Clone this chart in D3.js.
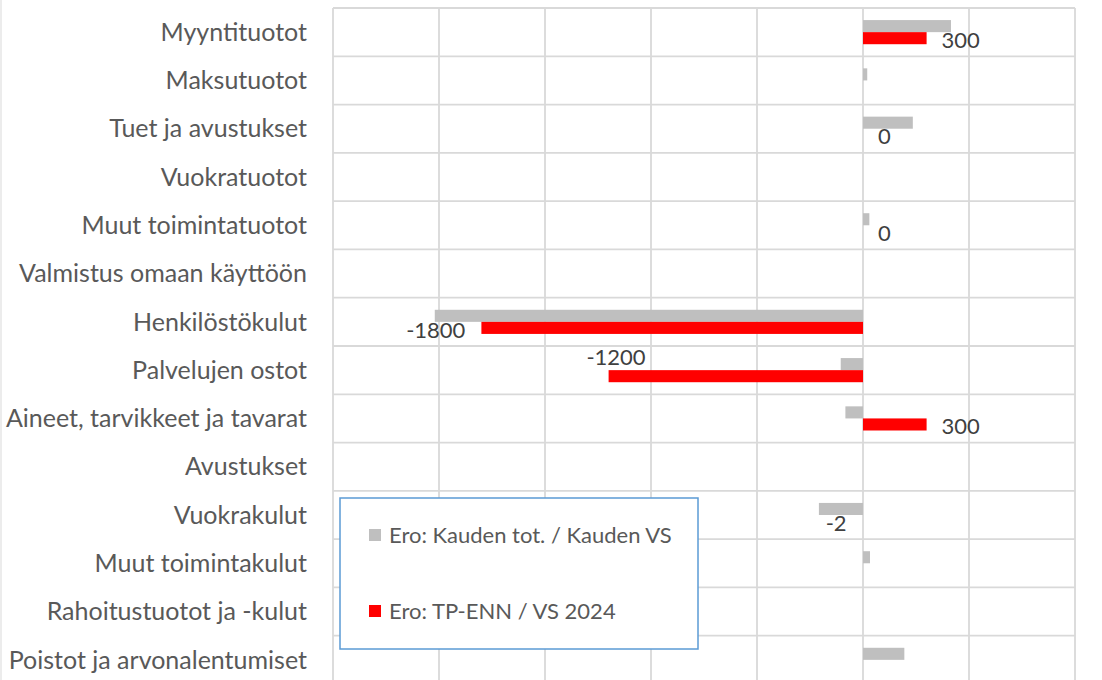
<!DOCTYPE html>
<html>
<head>
<meta charset="utf-8">
<script src="https://cdn.jsdelivr.net/npm/d3@7"></script>
<style>
  body { margin: 0; background: #fff; }
  text { font-family: Lato, "Open Sans", sans-serif; }
</style>
</head>
<body>
<div id="wrapper"></div>
<script>
// Data
const categories = [
  "Myyntituotot",
  "Maksutuotot",
  "Tuet ja avustukset",
  "Vuokratuotot",
  "Muut toimintatuotot",
  "Valmistus omaan käyttöön",
  "Henkilöstökulut",
  "Palvelujen ostot",
  "Aineet, tarvikkeet ja tavarat",
  "Avustukset",
  "Vuokrakulut",
  "Muut toimintakulut",
  "Rahoitustuotot ja -kulut",
  "Poistot ja arvonalentumiset",
]
const seriesNames = ["Ero: Kauden tot. / Kauden VS", "Ero: TP-ENN / VS 2024"]
const eroKausi = [415, 20, 235, null, 30, null, -2020, -105, -83, null, -208, 33, null, 195]
const eroTpEnn = [300, null, 0, null, 0, null, -1800, -1200, 300, null, -2, null, null, null]
const xTicks = [-2500, -2000, -1500, -1000, -500, 0, 500, 1000]

const colors = ["#bfbfbf", "#ff0000"]

async function drawBars() {

  // 1. Dimensions
  const dimensions = {
    width: 1102,
    height: 680,
    plotLeft: 333,
    plotRight: 1075,
    plotTop: 8,
    plotBottom: 684,
  }

  // 2. Canvas
  const wrapper = d3.select("#wrapper")
    .append("svg")
      .attr("width", dimensions.width)
      .attr("height", dimensions.height)
      .style("display", "block")

  // 3. Scales
  const xScale = d3.scaleLinear()
    .domain([-2500, 1000])
    .range([dimensions.plotLeft, dimensions.plotRight])

  const yScale = d3.scaleBand()
    .domain(categories)
    .range([dimensions.plotTop, dimensions.plotBottom])

  const barH = yScale.bandwidth() / 4
  const barOffset = [yScale.bandwidth() / 4, yScale.bandwidth() / 2]

  // faint outer chart border on the left
  wrapper.append("line")
      .attr("x1", 1).attr("x2", 1)
      .attr("y1", 0).attr("y2", dimensions.height)
      .attr("stroke", "#e6e6e6")
      .attr("stroke-width", 1.5)

  // 4. Gridlines
  const grid = wrapper.append("g")
  grid.selectAll(".vgrid")
    .data(xTicks)
    .enter().append("line")
      .attr("x1", d => xScale(d)).attr("x2", d => xScale(d))
      .attr("y1", dimensions.plotTop).attr("y2", dimensions.plotBottom)
      .attr("stroke", "#d9d9d9")
      .attr("stroke-width", 1.8)

  const rowEdges = categories.map(c => yScale(c)).concat([dimensions.plotBottom])
  grid.selectAll(".hgrid")
    .data(rowEdges)
    .enter().append("line")
      .attr("x1", dimensions.plotLeft).attr("x2", dimensions.plotRight)
      .attr("y1", d => d).attr("y2", d => d)
      .attr("stroke", "#d9d9d9")
      .attr("stroke-width", 1.8)

  // 5. Bars
  const series = [eroKausi, eroTpEnn]
  series.forEach((values, s) => {
    const rows = categories.map((c, i) => ({ c, v: values[i] }))
      .filter(d => d.v !== null && Math.abs(xScale(d.v) - xScale(0)) >= 1)
    wrapper.append("g").selectAll("rect")
      .data(rows)
      .enter().append("rect")
        .attr("x", d => Math.min(xScale(0), xScale(d.v)))
        .attr("y", d => yScale(d.c) + barOffset[s])
        .attr("width", d => Math.abs(xScale(d.v) - xScale(0)))
        .attr("height", barH)
        .attr("fill", colors[s])
  })

  // 6. Data labels (red series)
  const labelNudge = { "Palvelujen ostot": [53, -21] }
  const labelRows = categories.map((c, i) => ({ c, v: eroTpEnn[i] })).filter(d => d.v !== null)
  wrapper.append("g").selectAll("text")
    .data(labelRows)
    .enter().append("text")
      .attr("x", d => xScale(d.v) + (d.v < 0 ? -16 : 15) + (labelNudge[d.c] ? labelNudge[d.c][0] : 0))
      .attr("y", d => yScale(d.c) + barOffset[1] + barH / 2 + 2 + (labelNudge[d.c] ? labelNudge[d.c][1] : 0))
      .attr("dy", "0.35em")
      .attr("text-anchor", d => d.v < 0 ? "end" : "start")
      .attr("fill", "#404040")
      .style("font-size", "22px")
      .text(d => d.v)

  // 7. Category labels
  wrapper.append("g").selectAll("text")
    .data(categories)
    .enter().append("text")
      .attr("x", 307)
      .attr("y", d => yScale(d) + yScale.bandwidth() / 2)
      .attr("dy", "0.35em")
      .attr("text-anchor", "end")
      .attr("fill", "#595959")
      .style("font-size", "25px")
      .text(d => d)

  // 8. Legend
  const legend = wrapper.append("g")
  legend.append("rect")
      .attr("x", 340).attr("y", 498)
      .attr("width", 358).attr("height", 151)
      .attr("fill", "#fff")
      .attr("stroke", "#5b9bd5")
      .attr("stroke-width", 1.5)

  const legendItems = legend.selectAll(".item")
    .data(seriesNames)
    .enter().append("g")
      .attr("transform", (d, i) => `translate(369, ${529 + i * 76})`)
  legendItems.append("rect")
      .attr("width", 12).attr("height", 12)
      .attr("fill", (d, i) => colors[i])
  legendItems.append("text")
      .attr("x", 20)
      .attr("y", 6)
      .attr("dy", "0.35em")
      .attr("fill", "#595959")
      .style("font-size", "22px")
      .text(d => d)
}
drawBars()
</script>
</body>
</html>
